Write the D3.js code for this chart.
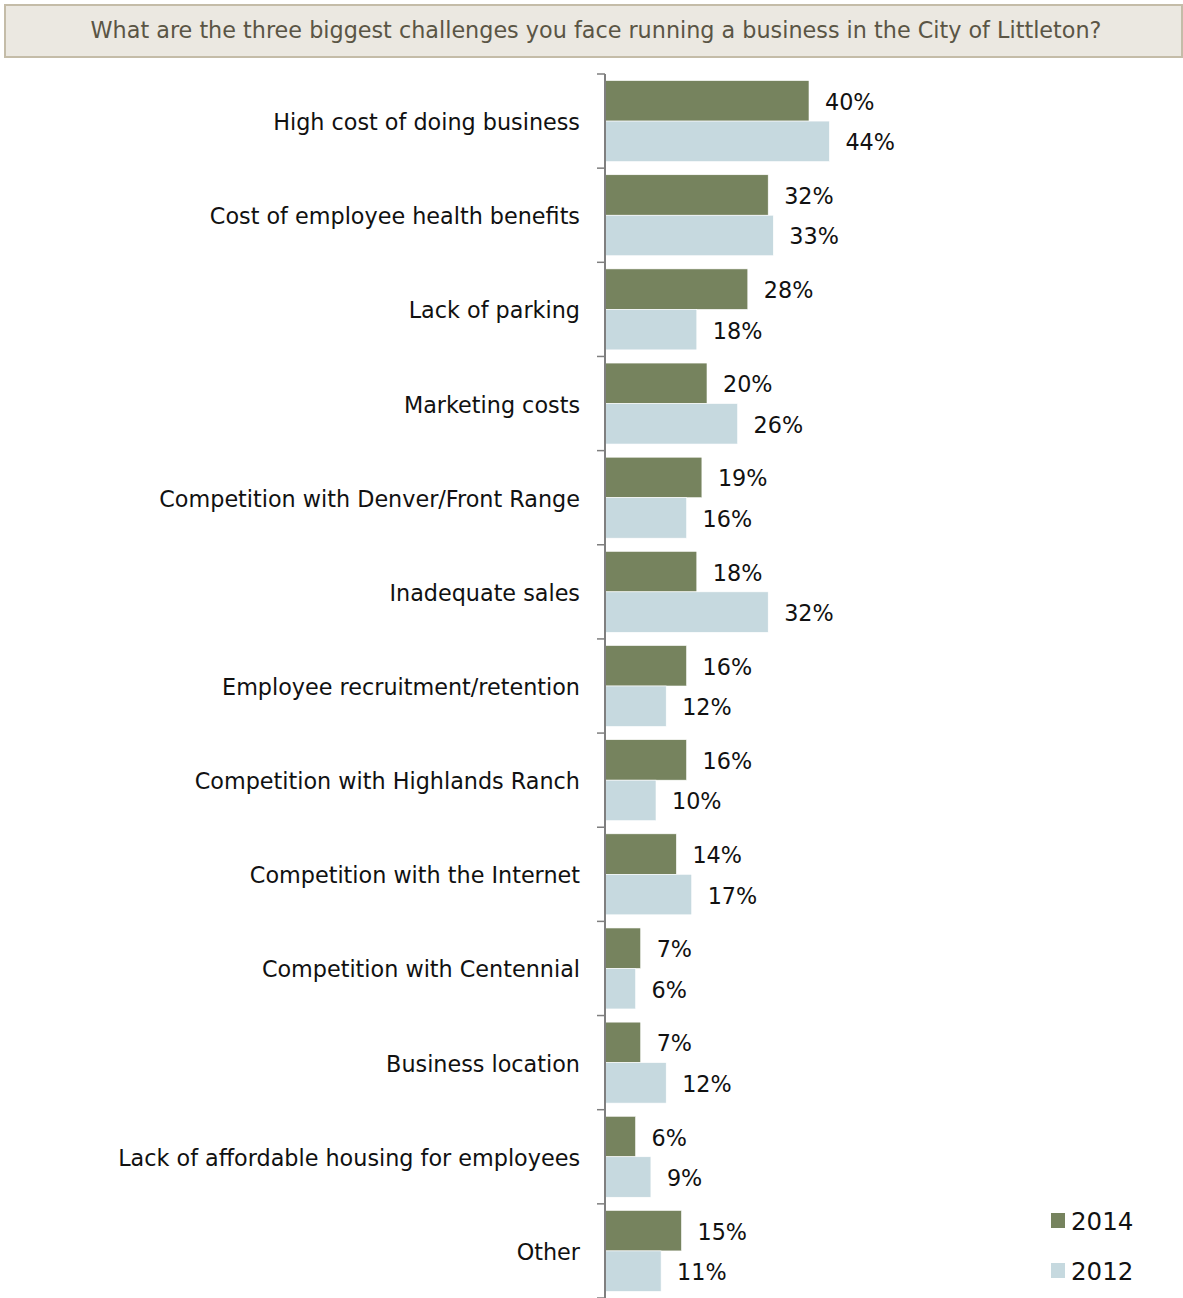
<!DOCTYPE html>
<html>
<head>
<meta charset="utf-8">
<script src="https://cdn.jsdelivr.net/npm/d3@7"></script>
<style>
  html, body { margin: 0; padding: 0; background: #fff; }
  svg { display: block; }
</style>
</head>
<body>
<div id="chart"></div>
<script>
// Survey responses: share of businesses naming each challenge among their top three
const categories = [
  "High cost of doing business",
  "Cost of employee health benefits",
  "Lack of parking",
  "Marketing costs",
  "Competition with Denver/Front Range",
  "Inadequate sales",
  "Employee recruitment/retention",
  "Competition with Highlands Ranch",
  "Competition with the Internet",
  "Competition with Centennial",
  "Business location",
  "Lack of affordable housing for employees",
  "Other"
];
const years = ["2014", "2012"];
const values2014 = [40, 32, 28, 20, 19, 18, 16, 16, 14, 7, 7, 6, 15];
const values2012 = [44, 33, 18, 26, 16, 32, 12, 10, 17, 6, 12, 9, 11];
const titleText = "What are the three biggest challenges you face running a business in the City of Littleton?";

const W = 1183, H = 1298;
const colors = { "2014": "#76835e", "2012": "#c6d9df" };
const font = "'DejaVu Sans', 'Liberation Sans', Arial, sans-serif";
const fs = 22.3;

const svg = d3.select("#chart").append("svg")
  .attr("width", W).attr("height", H);

// Title banner
svg.append("rect")
  .attr("x", 5).attr("y", 5).attr("width", W - 6).attr("height", 52)
  .attr("fill", "#ebe8e1").attr("stroke", "#c4bca8").attr("stroke-width", 2);
svg.append("text")
  .attr("x", 596).attr("y", 30)
  .attr("text-anchor", "middle").attr("dominant-baseline", "central")
  .attr("font-family", font).attr("font-size", fs).attr("fill", "#5a5545")
  .text(titleText);

const x0 = 605;
const x = d3.scaleLinear().domain([0, 100]).range([x0, x0 + 510]);
const y = d3.scaleBand().domain(categories).range([74, 1298])
  .paddingInner(0.14).paddingOuter(0.07);
const ySub = d3.scaleBand().domain(years).range([0, y.bandwidth()]);

const rows = categories.map((c, i) => ({
  cat: c,
  bars: [
    { year: "2014", v: values2014[i] },
    { year: "2012", v: values2012[i] }
  ]
}));

const groups = svg.append("g").selectAll("g")
  .data(rows).join("g")
  .attr("transform", d => `translate(0,${y(d.cat)})`);

groups.selectAll("rect")
  .data(d => d.bars).join("rect")
  .attr("x", x(0))
  .attr("y", d => ySub(d.year))
  .attr("width", d => x(d.v) - x(0))
  .attr("height", ySub.bandwidth())
  .attr("fill", d => colors[d.year])
  .attr("stroke", "#fff").attr("stroke-width", 0.6);

groups.selectAll("text.val")
  .data(d => d.bars).join("text")
  .attr("class", "val")
  .attr("x", d => x(d.v) + 16)
  .attr("y", d => ySub(d.year) + ySub.bandwidth() / 2 + 1)
  .attr("dominant-baseline", "central")
  .attr("font-family", font).attr("font-size", fs).attr("fill", "#111")
  .text(d => d.v + "%");

// Category axis with ticks at band boundaries
const axisG = svg.append("g");
axisG.append("line")
  .attr("x1", x0).attr("x2", x0).attr("y1", 74).attr("y2", 1298)
  .attr("stroke", "#7f7f7f").attr("stroke-width", 2);
const step = y.step();
const tickYs = d3.range(categories.length + 1).map(i => 74 + i * step);
axisG.selectAll("line.tick").data(tickYs).join("line")
  .attr("class", "tick")
  .attr("x1", x0 - 8).attr("x2", x0)
  .attr("y1", d => d).attr("y2", d => d)
  .attr("stroke", "#7f7f7f").attr("stroke-width", 1.5);

svg.append("g").selectAll("text")
  .data(categories).join("text")
  .attr("x", 580)
  .attr("y", d => y(d) + y.bandwidth() / 2 + 1)
  .attr("text-anchor", "end").attr("dominant-baseline", "central")
  .attr("font-family", font).attr("font-size", fs).attr("fill", "#111")
  .text(d => d);

// Legend
const legend = svg.append("g").selectAll("g")
  .data(years).join("g")
  .attr("transform", (d, i) => `translate(1051,${1213 + i * 50})`);
legend.append("rect")
  .attr("width", 14).attr("height", 15)
  .attr("fill", d => colors[d]);
legend.append("text")
  .attr("x", 20).attr("y", 8)
  .attr("dominant-baseline", "central")
  .attr("font-family", font).attr("font-size", 24.5).attr("fill", "#111")
  .text(d => d);
</script>
</body>
</html>
